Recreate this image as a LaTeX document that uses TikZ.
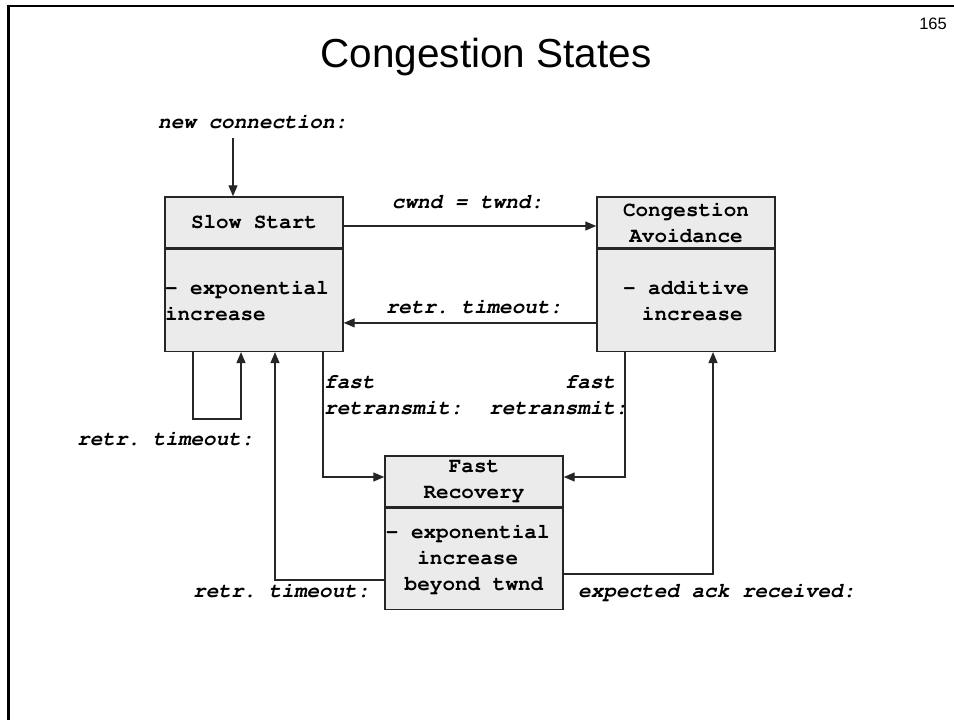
\documentclass[tikz,border=0pt]{standalone}
\usepackage[T1]{fontenc}
\usepackage{fontspec}
\setmainfont{Liberation Sans}
\newcommand{\cour}{\fontencoding{T1}\fontfamily{pcr}\selectfont\spaceskip=0.6em\xspaceskip=0.6em\relax}
\usetikzlibrary{arrows.meta,positioning}
\tikzstyle{statehead}=[
        draw=black!85,
        line width=1.4pt,
        fill=black!8,
        text width=178pt,
        inner xsep=0pt,
        inner ysep=0pt,
        align=center,
        minimum height=51pt,
        font=\fontsize{21}{26}\cour\bfseries,
        execute at begin node={\spaceskip=0.6em\xspaceskip=0.6em\relax}
]
\tikzstyle{statebody}=[
        statehead,
        minimum height=102pt
]
\tikzstyle{trans}=[
        draw=black!85,
        line width=1.3pt,
        -{Triangle[length=11pt,width=9pt]}
]
\tikzstyle{cond}=[
        inner sep=0pt,
        align=left,
        font=\fontsize{21}{26}\cour\bfseries\itshape
]

\begin{document}
\begin{tikzpicture}[x=1pt,y=-1pt]
                        \useasboundingbox (0,0) rectangle (954,720);
                        \draw[line width=2.5pt] (954,6.2) -- (8.5,6.2) -- (8.5,720);

                        \node[anchor=base] (title) at (486,67) {\fontsize{40.5}{48}\selectfont Congestion States};
                        \node[anchor=base east, inner sep=0pt] (pageno) at (947,30) {\fontsize{16.5}{20}\selectfont 165};

                        \node[statehead] (ss-head) at (254,222.5) {Slow Start};
                        \node[statebody, below=0pt of ss-head, align=left] (ss-body) {- exponential\\increase};

                        \node[statehead] (ca-head) at (686,222.5) {Congestion\\Avoidance};
                        \node[statebody, below=0pt of ca-head] (ca-body) {- additive\\\hphantom{x}increase};

                        \node[statehead] (fr-head) at (474,481.5) {Fast\\Recovery};
                        \node[statebody, below=0pt of fr-head, minimum height=101pt] (fr-body) {- exponential\hphantom{x}\\increase\hphantom{x}\\beyond twnd};

                        \node[cond, anchor=base west] (new-lbl) at (158,128) {new connection:};
                        \node[cond, anchor=base] (cwnd-lbl) at (467.5,208) {cwnd = twnd:};
                        \node[cond, anchor=base] (rto-lbl) at (474,313) {retr. timeout:};
                        \node[cond, anchor=base west] (loop-lbl) at (77,445) {retr. timeout:};
                        \node[cond, anchor=base west] (back-lbl) at (193,597) {retr. timeout:};
                        \node[cond, anchor=base west] (ack-lbl) at (578,597) {expected ack received:};
                        \node[cond, anchor=base west] (frl-lbl) at (324,414) {fast\\retransmit:};
                        \node[cond, anchor=base east, align=right] (frr-lbl) at (628,414) {fast\hphantom{x}\\retransmit:};

                        \coordinate (new) at (233,138);
                        \draw[trans] (new) -- (new |- ss-head.north);

                        \draw[trans] ([yshift=-3.5pt]ss-head.east) -- ([yshift=-3.5pt]ca-head.west);
                        \draw[trans] ([yshift=-22.5pt]ca-body.west) -- ([yshift=-22.5pt]ss-body.east);
                        \draw[trans] ([xshift=-61pt]ss-body.south) -- ++(0,67) -| ([xshift=-13pt]ss-body.south);
                        \draw[trans] ([yshift=-21pt]fr-body.west) -| ([xshift=21pt]ss-body.south);
                        \draw[trans] ([xshift=69pt]ss-body.south) |- ([yshift=4.5pt]fr-head.west);
                        \draw[trans] ([xshift=-61pt]ca-body.south) |- ([yshift=4.5pt]fr-head.east);
                        \draw[trans] ([yshift=-15pt]fr-body.east) -| ([xshift=27pt]ca-body.south);

                    \end{tikzpicture}
\end{document}
